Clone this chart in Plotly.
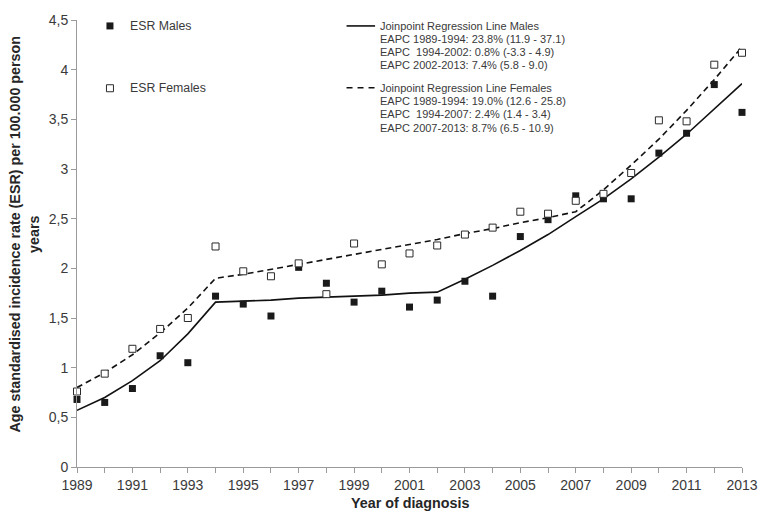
import plotly.graph_objects as go

years = list(range(1989, 2014))

esr_males = [0.68, 0.65, 0.79, 1.12, 1.05, 1.72, 1.64, 1.52, 2.01, 1.85, 1.66, 1.77,
             1.61, 1.68, 1.87, 1.72, 2.32, 2.49, 2.73, 2.70, 2.70, 3.16, 3.36, 3.85, 3.57]
esr_females = [0.76, 0.94, 1.19, 1.39, 1.50, 2.22, 1.97, 1.92, 2.05, 1.74, 2.25, 2.04,
               2.15, 2.23, 2.34, 2.41, 2.57, 2.55, 2.68, 2.75, 2.96, 3.49, 3.48, 4.05, 4.17]
jp_males = [0.57, 0.70, 0.87, 1.07, 1.34, 1.66, 1.67, 1.68, 1.70, 1.71, 1.72, 1.73,
            1.75, 1.76, 1.89, 2.03, 2.18, 2.34, 2.52, 2.70, 2.90, 3.12, 3.35, 3.60, 3.86]
jp_females = [0.80, 0.95, 1.13, 1.35, 1.60, 1.90, 1.94, 1.99, 2.04, 2.09, 2.14, 2.19,
              2.24, 2.29, 2.35, 2.40, 2.46, 2.51, 2.57, 2.79, 3.04, 3.30, 3.59, 3.90, 4.23]

x_tick_vals = list(range(1989, 2014, 2))
x_tick_text = [str(v) for v in x_tick_vals]
y_tick_vals = [0, 0.5, 1, 1.5, 2, 2.5, 3, 3.5, 4, 4.5]
y_tick_text = ["0", "0,5", "1", "1,5", "2", "2,5", "3", "3,5", "4", "4,5"]

legend_males = "ESR Males"
legend_females = "ESR Females"
jp_males_text = ["Joinpoint Regression Line Males",
                 "EAPC 1989-1994: 23.8% (11.9 - 37.1)",
                 "EAPC  1994-2002: 0.8% (-3.3 - 4.9)",
                 "EAPC 2002-2013: 7.4% (5.8 - 9.0)"]
jp_females_text = ["Joinpoint Regression Line Females",
                   "EAPC 1989-1994: 19.0% (12.6 - 25.8)",
                   "EAPC  1994-2007: 2.4% (1.4 - 3.4)",
                   "EAPC 2007-2013: 8.7% (6.5 - 10.9)"]
x_title = "Year of diagnosis"
y_title = "Age standardised incidence rate (ESR) per 100.000 person<br>years"

FONT = "Liberation Sans, Arial, sans-serif"
TXT = "#3a3a3a"
AX = "#9a9a9a"

W, H = 770, 514
L, R, T, B = 77, 17, 15, 47
PW, PH = W - L - R, H - T - B


def px_x(p):
    return (p - L) / PW


def px_y(p):
    return (H - B - p) / PH


fig = go.Figure()
fig.add_trace(go.Scatter(x=years, y=jp_males, mode="lines",
                         line=dict(color="#111111", width=1.6),
                         cliponaxis=False, showlegend=False))
fig.add_trace(go.Scatter(x=years, y=jp_females, mode="lines",
                         line=dict(color="#111111", width=1.6, dash="6px,4px"),
                         cliponaxis=False, showlegend=False))
fig.add_trace(go.Scatter(x=years, y=esr_males, mode="markers",
                         marker=dict(symbol="square", size=7, color="#1a1a1a",
                                     line=dict(width=0)),
                         cliponaxis=False, showlegend=False))
fig.add_trace(go.Scatter(x=years, y=esr_females, mode="markers",
                         marker=dict(symbol="square", size=7, color="white",
                                     line=dict(width=1, color="#2a2a2a")),
                         cliponaxis=False, showlegend=False))

shapes = []
annotations = []

# marker legend swatches
for (py, fill, lw) in [(21, "#1a1a1a", 0), (84, "white", 1)]:
    shapes.append(dict(type="rect", xref="paper", yref="paper",
                       xsizemode="pixel", ysizemode="pixel",
                       xanchor=px_x(110.5), yanchor=px_y(py),
                       x0=-3.5, x1=3.5, y0=-3.5, y1=3.5,
                       fillcolor=fill, line=dict(color="#2a2a2a", width=lw)))
for (py, txt) in [(21, legend_males), (84, legend_females)]:
    annotations.append(dict(xref="paper", yref="paper", x=px_x(129), y=px_y(py),
                            xanchor="left", yanchor="middle", showarrow=False,
                            text=txt, font=dict(family=FONT, size=12.3, color=TXT)))

# line legend swatches
shapes.append(dict(type="line", xref="paper", yref="paper",
                   x0=px_x(351), x1=px_x(380), y0=px_y(21), y1=px_y(21),
                   line=dict(color="#111111", width=1.6)))
shapes.append(dict(type="line", xref="paper", yref="paper",
                   x0=px_x(351), x1=px_x(380), y0=px_y(83.5), y1=px_y(83.5),
                   line=dict(color="#111111", width=1.6, dash="6px,5px")))

for i, txt in enumerate(jp_males_text):
    annotations.append(dict(xref="paper", yref="paper", x=px_x(383), y=px_y(20.7 + 13.3 * i),
                            xanchor="left", yanchor="middle", showarrow=False,
                            text=txt, font=dict(family=FONT, size=11, color=TXT)))
for i, txt in enumerate(jp_females_text):
    annotations.append(dict(xref="paper", yref="paper", x=px_x(383), y=px_y(83.3 + 13.5 * i),
                            xanchor="left", yanchor="middle", showarrow=False,
                            text=txt, font=dict(family=FONT, size=11, color=TXT)))

# axis titles
annotations.append(dict(xref="paper", yref="paper", x=px_x(415), y=px_y(503),
                        xanchor="center", yanchor="middle", showarrow=False,
                        text="<b>%s</b>" % x_title,
                        font=dict(family=FONT, size=14.3, color="#262626")))
annotations.append(dict(xref="paper", yref="paper", x=px_x(24), y=px_y(231),
                        xanchor="center", yanchor="middle", showarrow=False,
                        textangle=-90, text="<b>%s</b>" % y_title.replace("<br>", "</b><br><b>"),
                        font=dict(family=FONT, size=14.3, color="#262626")))

fig.update_layout(
    width=W, height=H,
    margin=dict(l=L, r=R, t=T, b=B, pad=0),
    paper_bgcolor="white", plot_bgcolor="white",
    shapes=shapes, annotations=annotations,
    font=dict(family=FONT, size=14, color=TXT),
    xaxis=dict(range=[1989, 2013], tickmode="array", tickvals=x_tick_vals, ticktext=x_tick_text,
               showline=True, linecolor=AX, linewidth=1, showgrid=False, zeroline=False,
               ticks="outside", ticklen=5, tickcolor=AX, tickwidth=1,
               minor=dict(dtick=1, tick0=1989, ticks="outside", ticklen=5, tickcolor=AX, tickwidth=1),
               tickfont=dict(family=FONT, size=14, color=TXT)),
    yaxis=dict(range=[0, 4.5], tickmode="array", tickvals=y_tick_vals, ticktext=y_tick_text,
               showline=True, linecolor=AX, linewidth=1, showgrid=False, zeroline=False,
               ticks="outside", ticklen=5, tickcolor=AX, tickwidth=1,
               tickfont=dict(family=FONT, size=14, color=TXT)),
)

fig.write_html("out.html")
